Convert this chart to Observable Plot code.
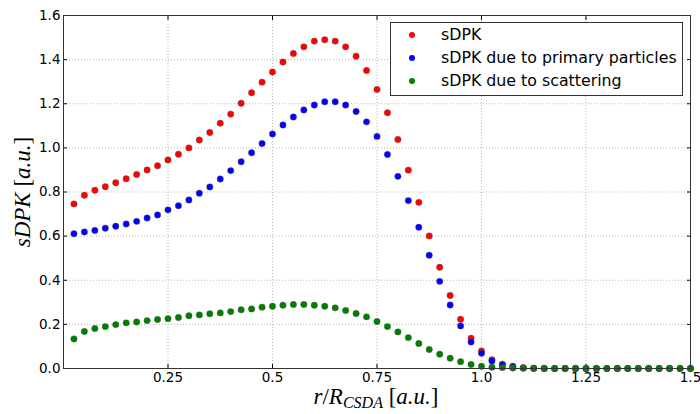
<!DOCTYPE html>
<html><head><meta charset="utf-8">
<script src="https://cdn.jsdelivr.net/npm/d3@7"></script>
<script src="https://cdn.jsdelivr.net/npm/@observablehq/plot@0.6"></script>
<style>
body{margin:0;background:#fff}
#wrap{position:relative;width:700px;height:414px}
#legend{position:absolute;left:390px;top:22px;width:293px;height:74px;border:1px solid #333;background:#fff;box-sizing:border-box;font-family:"DejaVu Sans";font-size:15.8px;color:#000}
.row{position:absolute;left:0;height:20px;line-height:20px;white-space:nowrap}
.mk{position:absolute;left:18px;top:7px;width:6px;height:6px;border-radius:50%}
.lb{position:absolute;left:50px;top:0}
</style>
</head><body><div id="wrap"></div>
<script>
const r = [0.025,0.05,0.075,0.1,0.125,0.15,0.175,0.2,0.225,0.25,0.275,0.3,0.325,0.35,0.375,0.4,0.425,0.45,0.475,0.5,0.525,0.55,0.575,0.6,0.625,0.65,0.675,0.7,0.725,0.75,0.775,0.8,0.825,0.85,0.875,0.9,0.925,0.95,0.975,1.0,1.025,1.05,1.075,1.1,1.125,1.15,1.175,1.2,1.225,1.25,1.275,1.3,1.325,1.35,1.375,1.4,1.425,1.45,1.475,1.5];
const sDPK = [0.746,0.785,0.808,0.824,0.842,0.860,0.879,0.900,0.919,0.945,0.971,1.000,1.036,1.070,1.112,1.153,1.202,1.250,1.298,1.344,1.389,1.428,1.458,1.484,1.490,1.484,1.458,1.415,1.351,1.265,1.159,1.038,0.899,0.753,0.601,0.459,0.331,0.223,0.137,0.080,0.040,0.020,0.010,0.004,0.001,0,0,0,0,0,0,0,0,0,0,0,0,0,0,0];
const primary = [0.611,0.619,0.626,0.636,0.645,0.655,0.667,0.682,0.696,0.719,0.738,0.764,0.794,0.823,0.859,0.897,0.937,0.978,1.020,1.063,1.104,1.140,1.172,1.194,1.209,1.209,1.194,1.165,1.118,1.052,0.970,0.871,0.761,0.640,0.513,0.395,0.288,0.193,0.120,0.069,0.034,0.016,0.008,0.003,0.001,0,0,0,0,0,0,0,0,0,0,0,0,0,0,0];
const scattering = [0.134,0.168,0.181,0.190,0.199,0.207,0.211,0.217,0.222,0.226,0.231,0.239,0.243,0.248,0.252,0.258,0.266,0.270,0.278,0.282,0.287,0.290,0.290,0.287,0.282,0.275,0.263,0.249,0.234,0.213,0.190,0.166,0.140,0.113,0.086,0.065,0.047,0.031,0.018,0.010,0.006,0.004,0.002,0.001,0.0005,0,0,0,0,0,0,0,0,0,0,0,0,0,0,0];
const seriesNames = ["sDPK","sDPK due to primary particles","sDPK due to scattering"];
const seriesColors = ["#ff0000","#0000ff","#007f00"];
const xTicks = [0.25,0.5,0.75,1.0,1.25,1.5];
const xTickLabels = ["0.25","0.5","0.75","1.0","1.25","1.5"];
const yTicks = [0,0.2,0.4,0.6,0.8,1.0,1.2,1.4,1.6];
const yTickLabels = ["0.0","0.2","0.4","0.6","0.8","1.0","1.2","1.4","1.6"];

const seriesValues = [sDPK, primary, scattering];
const table = [];
seriesValues.forEach((vals, s) => vals.forEach((v, i) => table.push({x: r[i], y: v, series: seriesNames[s]})));

const grid = {stroke: "#b8b8b8", strokeOpacity: 1, strokeDasharray: "1,2", strokeWidth: 1};
const chart = Plot.plot({
  width: 700, height: 414,
  marginLeft: 63, marginRight: 10, marginTop: 15, marginBottom: 46,
  x: {domain: [0, 1.5]},
  y: {domain: [0, 1.6]},
  color: {domain: seriesNames, range: seriesColors},
  style: {fontFamily: "DejaVu Sans", fontSize: "13.5px", color: "#000", background: "#fff"},
  marks: [
    Plot.gridX(xTicks, grid),
    Plot.gridY(yTicks, grid),
    Plot.axisX(xTicks, {anchor: "bottom", tickSize: 0, tickPadding: 4, fontSize: 13.5, tickFormat: d => xTickLabels[xTicks.indexOf(d)], label: null}),
    Plot.axisY(yTicks, {anchor: "left", tickSize: 0, tickPadding: 3, fontSize: 13.5, tickFormat: d => yTickLabels[yTicks.indexOf(d)], label: null}),
    Plot.axisX(xTicks, {anchor: "bottom", tickSize: -4, tickFormat: () => "", label: null}),
    Plot.axisX(xTicks, {anchor: "top", tickSize: -4, tickFormat: () => "", label: null}),
    Plot.axisY(yTicks, {anchor: "left", tickSize: -4, tickFormat: () => "", label: null}),
    Plot.axisY(yTicks, {anchor: "right", tickSize: -4, tickFormat: () => "", label: null}),
    Plot.dot(table, {x: "x", y: "y", fill: "series", r: 3.2, stroke: "#555", strokeWidth: 0.4}),
    Plot.frame({stroke: "#333", strokeWidth: 1})
  ]
});
const wrap = document.getElementById("wrap");
wrap.appendChild(chart);

const svg = d3.select(chart);
const serif = "'Liberation Serif', 'DejaVu Serif', serif";
const yl = svg.append("text")
  .attr("transform", "translate(30,192) rotate(-90)")
  .attr("text-anchor", "middle")
  .attr("font-family", serif).attr("font-size", 23).attr("fill", "#000");
yl.append("tspan").attr("font-style", "italic").text("sDPK");
yl.append("tspan").text(" [");
yl.append("tspan").attr("font-style", "italic").text("a.u.");
yl.append("tspan").text("]");

const xl = svg.append("text")
  .attr("x", 376).attr("y", 404)
  .attr("text-anchor", "middle")
  .attr("font-family", serif).attr("font-size", 23).attr("fill", "#000");
xl.append("tspan").attr("font-style", "italic").text("r");
xl.append("tspan").text("/");
xl.append("tspan").attr("font-style", "italic").text("R");
xl.append("tspan").attr("font-style", "italic").attr("font-size", 16).attr("dy", 4).text("CSDA");
xl.append("tspan").attr("dy", -4).text(" [");
xl.append("tspan").attr("font-style", "italic").text("a.u.");
xl.append("tspan").text("]");

const lg = document.createElement("div");
lg.id = "legend";
seriesNames.forEach((n, i) => {
  const row = document.createElement("div");
  row.className = "row";
  row.style.top = (2 + i * 23) + "px";
  row.style.width = "100%";
  const mk = document.createElement("span");
  mk.className = "mk";
  mk.style.background = seriesColors[i];
  const lb = document.createElement("span");
  lb.className = "lb";
  lb.textContent = n;
  row.appendChild(mk); row.appendChild(lb);
  lg.appendChild(row);
});
wrap.appendChild(lg);
</script>
</body></html>
